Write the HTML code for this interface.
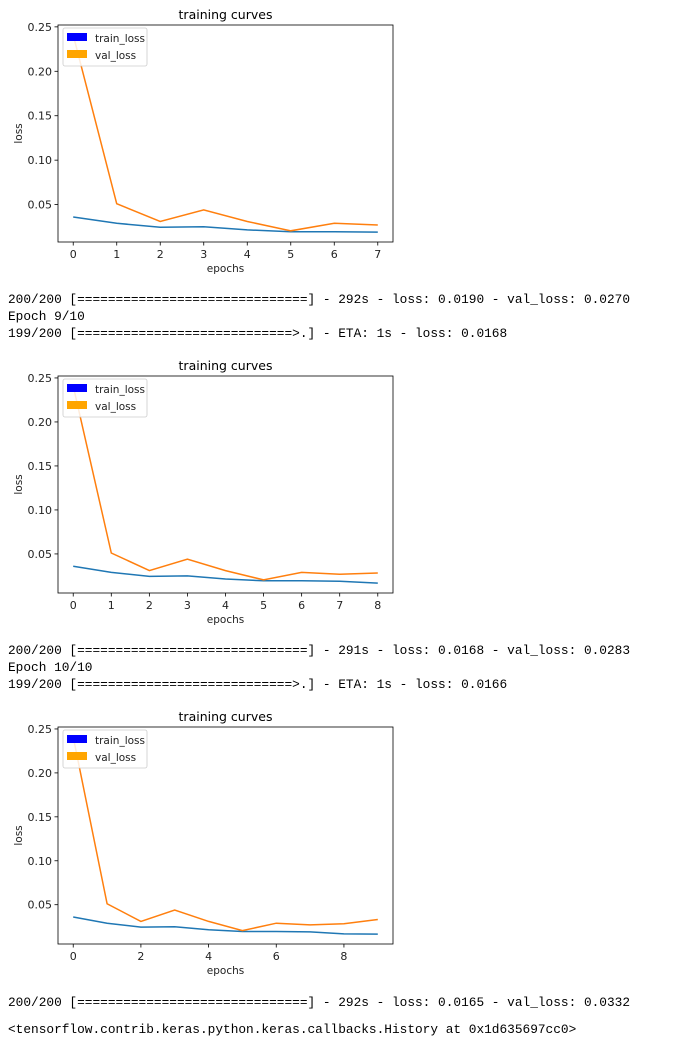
<!DOCTYPE html>
<html><head><meta charset="utf-8">
<style>
body{margin:0;background:#fff;width:700px;height:1046px;position:relative;overflow:hidden;font-family:"DejaVu Sans","Liberation Sans",sans-serif}
.out{position:absolute;left:8px;font-family:"Liberation Mono",monospace;font-size:12.8px;line-height:17px;white-space:pre;color:#000}
svg{position:absolute;left:0}
</style></head><body>
<svg id="c1" width="420" height="280" style="top:0"></svg>
<div class="out" style="top:291px">200/200 [==============================] - 292s - loss: 0.0190 - val_loss: 0.0270
Epoch 9/10
199/200 [============================&gt;.] - ETA: 1s - loss: 0.0168</div>
<svg id="c2" width="420" height="280" style="top:351px"></svg>
<div class="out" style="top:642px">200/200 [==============================] - 291s - loss: 0.0168 - val_loss: 0.0283
Epoch 10/10
199/200 [============================&gt;.] - ETA: 1s - loss: 0.0166</div>
<svg id="c3" width="420" height="280" style="top:702px"></svg>
<div class="out" style="top:994px">200/200 [==============================] - 292s - loss: 0.0165 - val_loss: 0.0332</div>
<div class="out" style="top:1021px">&lt;tensorflow.contrib.keras.python.keras.callbacks.History at 0x1d635697cc0&gt;</div>
<script>
const train1=[0.036,0.029,0.0245,0.025,0.0215,0.0195,0.0195,0.019];
const val1=[0.241,0.051,0.031,0.044,0.031,0.0205,0.029,0.027];
const train2=[0.036,0.029,0.0245,0.025,0.0215,0.0195,0.0195,0.019,0.0168];
const val2=[0.241,0.051,0.031,0.044,0.031,0.0205,0.029,0.027,0.0283];
const train3=[0.036,0.029,0.0245,0.025,0.0215,0.0195,0.0195,0.019,0.0168,0.0165];
const val3=[0.241,0.051,0.031,0.044,0.031,0.0205,0.029,0.027,0.0283,0.0332];
const yTicks=[0.05,0.10,0.15,0.20,0.25];
const yTickLabels=["0.05","0.10","0.15","0.20","0.25"];
const xTickStep=[1,1,2];
const NS="http://www.w3.org/2000/svg";
function mk(svg,tag,attrs){const e=document.createElementNS(NS,tag);for(const k in attrs)e.setAttribute(k,attrs[k]);svg.appendChild(e);return e;}
function draw(id,train,val,step){
  const svg=document.getElementById(id);
  const L=58,R=393,T=25,B=242;
  const n=train.length-1;
  const xr=n*0.05;
  const x=v=>L+(v+xr)/(n+2*xr)*(R-L);
  const all=train.concat(val);
  const mn=Math.min(...all),mx=Math.max(...all),m=(mx-mn)*0.05;
  const y=v=>B-(v-(mn-m))/((mx+m)-(mn-m))*(B-T);
  let t=mk(svg,'text',{x:(L+R)/2,y:19,'text-anchor':'middle','font-size':'12.5','fill':'#000'});t.textContent='training curves';
  
  
  yTicks.forEach((v,i)=>{
    const yy=y(v);
    mk(svg,'line',{x1:L-3.5,x2:L,y1:yy,y2:yy,stroke:'#000','stroke-width':0.8});
    const tx=mk(svg,'text',{x:L-6,y:yy+4,'text-anchor':'end','font-size':'11','fill':'#222'});tx.textContent=yTickLabels[i];
    
    
  });
  for(let k=0;k<=n;k+=step){
    const xx=x(k);
    mk(svg,'line',{x1:xx,x2:xx,y1:B,y2:B+3.5,stroke:'#000','stroke-width':0.8});
    const tx=mk(svg,'text',{x:xx,y:B+16,'text-anchor':'middle','font-size':'11','fill':'#222'});tx.textContent=k;
    
    
  }
  const xl=mk(svg,'text',{x:(L+R)/2,y:B+30,'text-anchor':'middle','font-size':'10.5','fill':'#222'});xl.textContent='epochs';
  
  
  const yl=mk(svg,'text',{x:0,y:0,'text-anchor':'middle','font-size':'10.5','fill':'#222',transform:`translate(22,${(T+B)/2}) rotate(-90)`});yl.textContent='loss';
  
  
  const pts=a=>a.map((v,i)=>x(i).toFixed(1)+','+y(v).toFixed(1)).join(' ');
  const pt=mk(svg,'polyline',{points:pts(train),fill:'none',stroke:'#1f77b4','stroke-width':1.5});
  
  
  const pv=mk(svg,'polyline',{points:pts(val),fill:'none',stroke:'#ff7f0e','stroke-width':1.5});
  
  
  mk(svg,'rect',{x:L,y:T,width:R-L,height:B-T,fill:'none',stroke:'#000','stroke-width':0.8});
  const lg=mk(svg,'g',{});
  
  
  mk(lg,'rect',{x:L+5,y:T+3,width:84,height:38,fill:'#fff','fill-opacity':0.85,stroke:'#ccc','stroke-width':0.8,rx:2});
  mk(lg,'rect',{x:L+9,y:T+8,width:20,height:8,fill:'#0000ff'});
  mk(lg,'rect',{x:L+9,y:T+25,width:20,height:8,fill:'#ffa500'});
  let a=mk(lg,'text',{x:L+37,y:T+17,'font-size':'10.5','fill':'#222'});a.textContent='train_loss';
  let b=mk(lg,'text',{x:L+37,y:T+34,'font-size':'10.5','fill':'#222'});b.textContent='val_loss';
}
draw('c1',train1,val1,xTickStep[0]);
draw('c2',train2,val2,xTickStep[1]);
draw('c3',train3,val3,xTickStep[2]);
</script>
</body></html>
